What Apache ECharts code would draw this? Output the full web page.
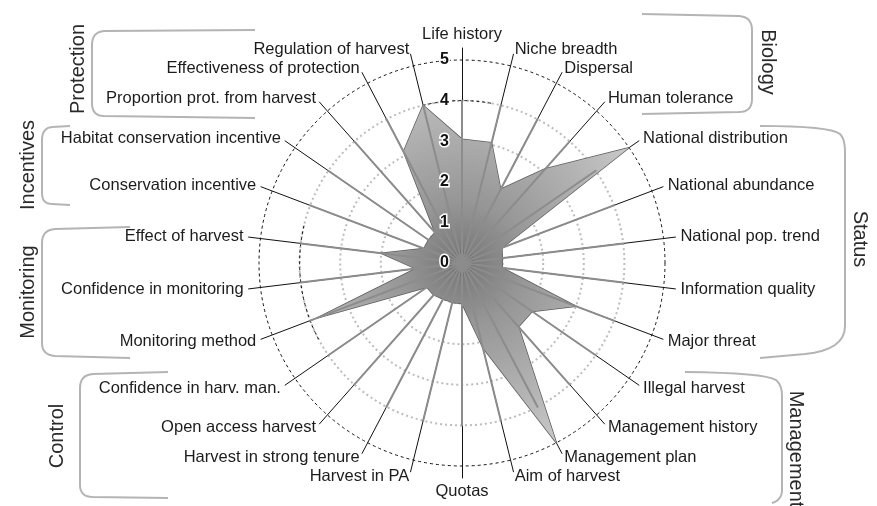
<!DOCTYPE html>
<html>
<head>
<meta charset="utf-8">
<script src="https://cdn.jsdelivr.net/npm/echarts@6/dist/echarts.min.js"></script>
<style>
  html, body { margin: 0; padding: 0; background: #fff; }
  #main { width: 877px; height: 506px; }
</style>
</head>
<body>
<div id="main"></div>
<script>
// indicators, clockwise from the top
const indicatorNames = [
  'Life history', 'Niche breadth', 'Dispersal', 'Human tolerance',
  'National distribution', 'National abundance', 'National pop. trend', 'Information quality',
  'Major threat', 'Illegal harvest', 'Management history', 'Management plan',
  'Aim of harvest', 'Quotas', 'Harvest in PA', 'Harvest in strong tenure',
  'Open access harvest', 'Confidence in harv. man.', 'Monitoring method', 'Confidence in monitoring',
  'Effect of harvest', 'Conservation incentive', 'Habitat conservation incentive',
  'Proportion prot. from harvest', 'Effectiveness of protection', 'Regulation of harvest'
]
const scores = [
  3.05, 3.05, 2.05, 3.1,
  5.0, 1.05, 1.0, 1.0,
  3.0, 2.1, 2.1, 5.0,
  2.15, 1.0, 1.0, 1.0,
  1.05, 1.05, 3.8, 1.15,
  2.0, 1.0, 1.0,
  1.0, 3.1, 4.0
]
const scoreMin = 0
const scoreMax = 5
const scoreStep = 1

// group brackets around the labels
const groupNames = ['Protection', 'Incentives', 'Monitoring', 'Control', 'Biology', 'Status', 'Management']

const cx = 462, cy = 263, R = 203
const font = 'Liberation Sans, Arial, sans-serif'

// echarts lays the indicators out counter-clockwise, so flip the order
const order = [0]
for (let i = indicatorNames.length - 1; i > 0; i--) order.push(i)
const named = order.map(i => ({ name: indicatorNames[i], min: scoreMin, max: scoreMax }))
const blank = order.map(() => ({ name: '', min: scoreMin, max: scoreMax }))
const values = order.map(i => scores[i])

const ringCount = (scoreMax - scoreMin) / scoreStep
function ringColors(fn) {
  const out = []
  for (let i = 0; i <= ringCount; i++) out.push(fn(i))
  return out
}

const hidden = {
  axisName: { show: false },
  axisLine: { show: false },
  axisTick: { show: false },
  axisLabel: { show: false },
  splitLine: { show: false },
  splitArea: { show: false }
}

// little path helper: [x,y] = line to, [cx,cy,x,y] = quadratic curve to
function bracket(segs) {
  const pts = [segs[0]]
  for (let k = 1; k < segs.length; k++) {
    const s = segs[k]
    if (s.length === 2) { pts.push(s); continue }
    const p0 = pts[pts.length - 1]
    for (let t = 1; t <= 8; t++) {
      const u = t / 8
      pts.push([
        (1 - u) * (1 - u) * p0[0] + 2 * (1 - u) * u * s[0] + u * u * s[2],
        (1 - u) * (1 - u) * p0[1] + 2 * (1 - u) * u * s[1] + u * u * s[3]
      ])
    }
  }
  return { type: 'polyline', shape: { points: pts }, style: { fill: null, stroke: '#b4b4b4', lineWidth: 2 }, silent: true }
}
function groupText(text, x, y, rot) {
  return {
    type: 'text', x: x, y: y, rotation: rot, silent: true,
    style: { text: text, fill: '#2a2a2a', font: '20px ' + font, textAlign: 'center', textVerticalAlign: 'middle' }
  }
}
// pieces of ring 4 that are black dashed in the original (angles clockwise from top, degrees)
function ringPiece(from, to) {
  const rad = d => (d - 90) * Math.PI / 180
  return {
    type: 'arc', z: 3, silent: true,
    shape: { cx: cx, cy: cy, r: R * 4 / 5, startAngle: rad(from), endAngle: rad(to), clockwise: true },
    style: { fill: null, stroke: '#111', lineWidth: 1, lineDash: [3, 3] }
  }
}

const option = {
  animation: false,
  backgroundColor: '#fff',
  textStyle: { fontFamily: font },
  radar: [
    // leader lines + indicator names
    Object.assign({}, hidden, {
      center: [cx, cy], radius: 215, startAngle: 90, shape: 'circle', z: 0,
      indicator: named, nameGap: 5,
      axisName: { show: true, color: '#1c1c1c', fontSize: 16.5, fontFamily: font },
      axisLine: { show: true, lineStyle: { color: '#111', width: 1 } }
    }),
    // dotted gray rings 1..4
    Object.assign({}, hidden, {
      center: [cx, cy], radius: R, startAngle: 90, shape: 'circle', z: 0,
      indicator: blank, splitNumber: ringCount,
      splitLine: { show: true, lineStyle: {
        color: ringColors(i => (i > 0 && i < ringCount) ? '#bcbcbc' : 'rgba(0,0,0,0)'),
        width: 2, type: [2, 3] } }
    }),
    // black dashed outer ring
    Object.assign({}, hidden, {
      center: [cx, cy], radius: R, startAngle: 90, shape: 'circle', z: 0,
      indicator: blank, splitNumber: ringCount,
      splitLine: { show: true, lineStyle: {
        color: ringColors(i => i === ringCount ? '#111' : 'rgba(0,0,0,0)'),
        width: 1, type: [3, 3] } }
    }),
    // gray spokes up to ring 4
    Object.assign({}, hidden, {
      center: [cx, cy], radius: R * 4 / 5, startAngle: 90, shape: 'circle', z: 5,
      indicator: blank,
      axisLine: { show: true, lineStyle: { color: '#8c8c8c', width: 2 } }
    }),
    // value labels on the vertical axis
    Object.assign({}, hidden, {
      center: [cx, cy], radius: R, startAngle: 90, shape: 'circle', z: 6,
      indicator: [{ name: '', min: scoreMin, max: scoreMax }], splitNumber: ringCount,
      axisLabel: { show: true, margin: 13, color: '#111', fontSize: 16, fontWeight: 'bold',
        fontFamily: font, textBorderColor: '#fff', textBorderWidth: 3,
        formatter: v => String(v) }
    })
  ],
  series: [{
    type: 'radar',
    radarIndex: 1,
    z: 2,
    symbol: 'none',
    lineStyle: { color: '#5e5e5e', width: 1.5 },
    areaStyle: {
      opacity: 1,
      color: {
        type: 'radial', x: cx, y: cy, r: R, global: true,
        colorStops: [
          { offset: 0, color: '#262626' },
          { offset: 0.07, color: '#7c7c7c' },
          { offset: 0.3, color: '#969696' },
          { offset: 1, color: '#c8c8c8' }
        ]
      }
    },
    data: [{ value: values, name: 'Score' }]
  }],
  graphic: [
    ringPiece(-14, 11),
    ringPiece(242, 284),
    bracket([[255, 30], [104, 31], [92, 32, 92, 45], [92, 103], [92, 116, 104, 116], [255, 118]]),
    bracket([[70, 126], [52, 127], [42, 128, 42, 140], [42, 193], [42, 204, 52, 204], [70, 205]]),
    bracket([[130, 227], [55, 229], [42, 230, 42, 243], [42, 343], [42, 355, 55, 356], [130, 358]]),
    bracket([[168, 372], [93, 374], [80, 375, 80, 388], [80, 485], [80, 497, 93, 497], [168, 498]]),
    bracket([[642, 14], [739, 16], [752, 17, 752, 30], [752, 99], [752, 112, 739, 112], [642, 114]]),
    bracket([[760, 126], [830, 126, 840, 134], [845, 139, 845, 152], [845, 326], [845, 350, 805, 354], [760, 358]]),
    bracket([[685, 372], [765, 373, 776, 380], [782, 385, 782, 396], [782, 490], [782, 500, 772, 503]]),
    groupText(groupNames[0], 78, 69, Math.PI / 2),
    groupText(groupNames[1], 28, 165, Math.PI / 2),
    groupText(groupNames[2], 28, 292, Math.PI / 2),
    groupText(groupNames[3], 57, 436, Math.PI / 2),
    groupText(groupNames[4], 768, 62, -Math.PI / 2),
    groupText(groupNames[5], 860, 239, -Math.PI / 2),
    groupText(groupNames[6], 796, 449, -Math.PI / 2)
  ]
}

const chart = echarts.init(document.getElementById('main'))
chart.setOption(option)
</script>
</body>
</html>
